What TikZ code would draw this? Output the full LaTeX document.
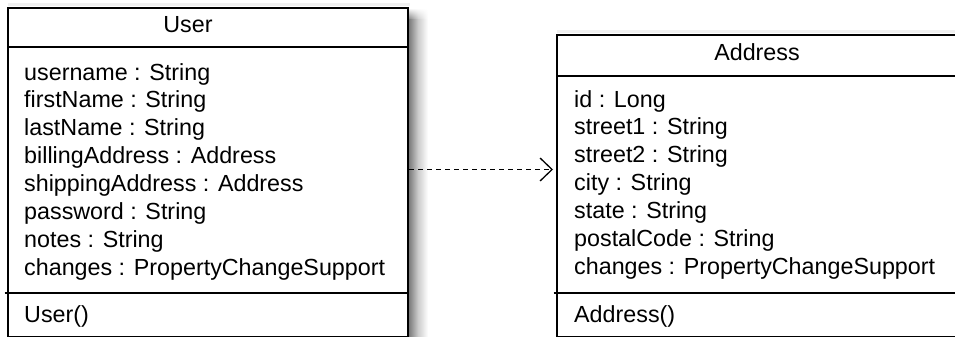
\documentclass[tikz,border=0pt]{standalone}
\usepackage{fontspec}
\setmainfont{Liberation Sans}
\usetikzlibrary{arrows.meta,fadings,calc}

\begin{document}
\begin{tikzpicture}[x=1pt,y=-1pt,
  classbox/.style={draw=black, line width=2pt, fill=white, rectangle, inner sep=0pt, anchor=north west},
  txt/.style={anchor=base west, inner sep=0pt, font=\fontsize{23.3}{28}\selectfont},
  ttl/.style={anchor=base, inner sep=0pt, font=\fontsize{23.3}{28}\selectfont},
  rule/.style={line width=2pt},
  dep/.style={line width=1.3pt, dash pattern=on 5pt off 4pt,
    -{Straight Barb[length=12pt,width=23pt,line width=1.3pt]}}
]
\useasboundingbox (0,0) rectangle (955,337);
\clip (0,0) rectangle (955,337);

% soft drop shadow right of the User class
\shade[left color=black!55, right color=white, middle color=black!20] (408,20) rectangle (428,340);
\shade[left color=black!55, right color=white, middle color=black!20, path fading=north] (408,8) rectangle (428,20);
% faint halo above the top edges
\fill[black!6] (8,3.5) rectangle (410,6);
\fill[black!6] (557,30.5) rectangle (960,33);

% class boxes
\node[classbox, minimum width=400pt, minimum height=329pt] (user) at (7,7) {};
\node[classbox, minimum width=400pt, minimum height=302pt] (address) at (556,34) {};

% compartment rules
\draw[rule] (user.west |- 0,47.5) -- (user.east |- 0,47.5);
\draw[rule] ($(user.west |- 0,292.5)+(-2.5,0)$) -- (user.east |- 0,292.5);
\draw[rule] (address.west |- 0,76) -- (address.east |- 0,76);
\draw[rule] ($(address.west |- 0,292.5)+(-2.5,0)$) -- (address.east |- 0,292.5);

% User class
\node[ttl] (utitle) at (188,33) {User};
\node[txt] (u1) at (24,80) {username : String};
\node[txt] (u2) at (24,107.9) {firstName : String};
\node[txt] (u3) at (24,135.8) {lastName : String};
\node[txt] (u4) at (24,163.7) {billingAddress : Address};
\node[txt] (u5) at (24,191.6) {shippingAddress : Address};
\node[txt] (u6) at (24,219.5) {password : String};
\node[txt] (u7) at (24,247.4) {notes : String};
\node[txt] (u8) at (24,275.3) {changes : PropertyChangeSupport};
\node[txt] (um) at (24,322) {User()};

% Address class
\node[ttl] (atitle) at (757,60.5) {Address};
\node[txt] (a1) at (574,107) {id : Long};
\node[txt] (a2) at (574,134.9) {street1 : String};
\node[txt] (a3) at (574,162.8) {street2 : String};
\node[txt] (a4) at (574,190.7) {city : String};
\node[txt] (a5) at (574,218.6) {state : String};
\node[txt] (a6) at (574,246.5) {postalCode : String};
\node[txt] (a7) at (574,274.4) {changes : PropertyChangeSupport};
\node[txt] (am) at (574,322) {Address()};

% dependency User -> Address
\coordinate (depy) at (0,169.5);
\draw[dep] (user.east |- depy) -- ($(address.west |- depy)+(-3,0)$);
\end{tikzpicture}
\end{document}
